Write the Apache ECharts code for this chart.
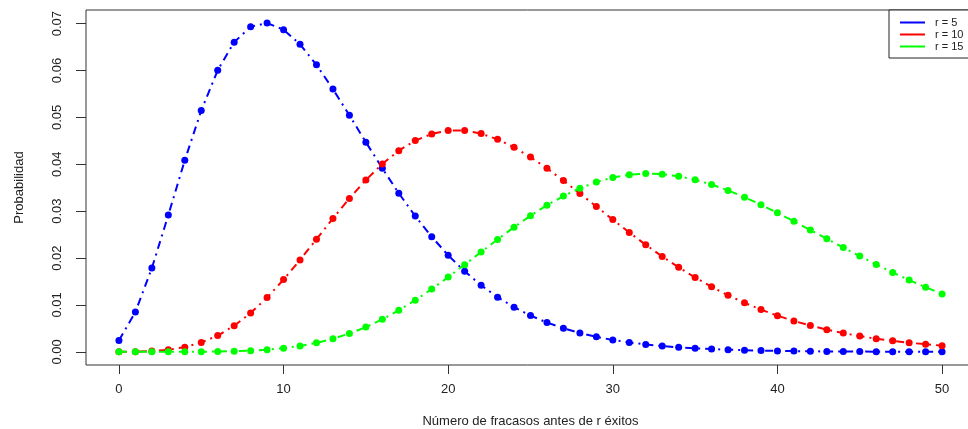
<!DOCTYPE html>
<html>
<head>
<meta charset="utf-8">
<script src="https://cdn.jsdelivr.net/npm/echarts@6/dist/echarts.min.js"></script>
<style>
html, body { margin: 0; padding: 0; background: #fff; }
#chart { width: 968px; height: 429px; }
</style>
</head>
<body>
<div id="chart"></div>
<script>
// Number of failures before the r-th success (k = 0..50)
const failures = Array.from({ length: 51 }, (_, i) => i);

const xTicks = [0, 10, 20, 30, 40, 50];
const yTicks = [0, 0.01, 0.02, 0.03, 0.04, 0.05, 0.06, 0.07];

const seriesNames = ['r = 5', 'r = 10', 'r = 15'];

const probR5 = [
  0.00243, 0.00851, 0.01786, 0.02917, 0.04084, 0.05146, 0.06004, 0.06604, 0.06934, 0.07011,
  0.06871, 0.06559, 0.06121, 0.05603, 0.05043, 0.04472, 0.03913, 0.03383, 0.02895, 0.02453,
  0.02060, 0.01717, 0.01420, 0.01167, 0.00953, 0.00774, 0.00625, 0.00502, 0.00402, 0.00320,
  0.00254, 0.00201, 0.00158, 0.00124, 0.00097, 0.00076, 0.00059, 0.00046, 0.00035, 0.00027,
  0.00021, 0.00016, 0.00012, 0.00009, 0.00007, 0.00006, 0.00004, 0.00003, 0.00002, 0.00002,
  0.00001
];

const probR10 = [
  0.00001, 0.00004, 0.00016, 0.00045, 0.00101, 0.00199, 0.00348, 0.00556, 0.00827, 0.01158,
  0.01541, 0.01961, 0.02402, 0.02845, 0.03272, 0.03665, 0.04008, 0.04291, 0.04506, 0.04648,
  0.04718, 0.04718, 0.04654, 0.04532, 0.04362, 0.04153, 0.03913, 0.03652, 0.03378, 0.03099,
  0.02820, 0.02547, 0.02284, 0.02035, 0.01802, 0.01586, 0.01387, 0.01207, 0.01045, 0.00901,
  0.00772, 0.00659, 0.00560, 0.00474, 0.00400, 0.00336, 0.00281, 0.00235, 0.00195, 0.00162,
  0.00133
];

const probR15 = [
  0.00000, 0.00000, 0.00000, 0.00000, 0.00001, 0.00003, 0.00007, 0.00014, 0.00026, 0.00047,
  0.00079, 0.00126, 0.00192, 0.00279, 0.00390, 0.00528, 0.00693, 0.00885, 0.01102, 0.01339,
  0.01594, 0.01859, 0.02130, 0.02398, 0.02658, 0.02903, 0.03126, 0.03323, 0.03489, 0.03621,
  0.03718, 0.03778, 0.03801, 0.03790, 0.03745, 0.03670, 0.03568, 0.03443, 0.03298, 0.03137,
  0.02965, 0.02784, 0.02598, 0.02411, 0.02225, 0.02042, 0.01864, 0.01694, 0.01531, 0.01378,
  0.01235
];

const seriesValues = [probR5, probR10, probR15];
const colors = ['#0000ff', '#ff0000', '#00ff00'];

const textFont = '"Liberation Sans", Arial, sans-serif';

function pairs(values) {
  return values.map((v, i) => [failures[i], v]);
}

const chart = echarts.init(document.getElementById('chart'), null, { renderer: 'canvas' });

chart.setOption({
  animation: false,
  backgroundColor: '#ffffff',
  textStyle: { fontFamily: textFont },
  grid: {
    left: 86, top: 10, right: -7, bottom: 64,
    outerBoundsMode: 'none',
    containLabel: false,
    show: true, borderColor: '#333', borderWidth: 1, backgroundColor: 'transparent'
  },
  legend: {
    orient: 'vertical',
    left: 889, top: 10,
    padding: [7, 8, 6, 11],
    itemGap: 1,
    itemWidth: 25,
    itemHeight: 2,
    icon: 'rect',
    borderColor: '#222',
    borderWidth: 1,
    backgroundColor: '#fff',
    textStyle: { fontFamily: textFont, fontSize: 11, color: '#222', padding: [0, 0, 0, 5] },
    data: seriesNames.map((n, i) => ({ name: n, itemStyle: { color: colors[i] } }))
  },
  xAxis: {
    type: 'value',
    min: -2, max: 52,
    name: 'Número de fracasos antes de r éxitos',
    nameLocation: 'middle',
    nameGap: 50,
    nameTextStyle: { fontFamily: textFont, fontSize: 13, color: '#222' },
    axisLine: { show: false, onZero: false },
    splitLine: { show: false },
    axisTick: { show: true, length: 9, inside: false, customValues: xTicks, lineStyle: { color: '#333' } },
    axisLabel: { customValues: xTicks, margin: 18, fontSize: 13, color: '#222', fontFamily: textFont }
  },
  yAxis: {
    type: 'value',
    min: -0.0028, max: 0.0729,
    name: 'Probabilidad',
    nameLocation: 'middle',
    nameGap: 60,
    nameRotate: 90,
    nameTextStyle: { fontFamily: textFont, fontSize: 13, color: '#222' },
    axisLine: { show: false, onZero: false },
    splitLine: { show: false },
    axisTick: { show: true, length: 10, inside: false, customValues: yTicks, lineStyle: { color: '#333' } },
    axisLabel: {
      customValues: yTicks, rotate: 90, margin: 22, fontSize: 13, color: '#222', fontFamily: textFont,
      formatter: v => v.toFixed(2)
    }
  },
  series: seriesNames.map((name, i) => ({
    name,
    type: 'line',
    data: pairs(seriesValues[i]),
    z: 2 + i,
    symbol: 'circle',
    symbolSize: 7,
    showAllSymbol: true,
    color: colors[i],
    itemStyle: { color: colors[i] },
    lineStyle: { color: colors[i], width: 2, type: [8, 5, 2, 5] }
  }))
});
</script>
</body>
</html>
